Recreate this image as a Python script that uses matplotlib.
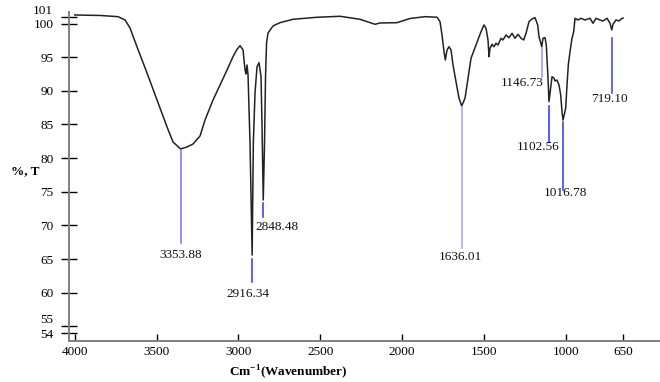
import matplotlib
matplotlib.use("Agg")
import matplotlib.pyplot as plt

plt.rcParams['font.family'] = ['Liberation Serif', 'DejaVu Serif']
plt.rcParams['mathtext.fontset'] = 'custom'
plt.rcParams['mathtext.rm'] = 'Liberation Serif'
plt.rcParams['mathtext.bf'] = 'Liberation Serif:bold'

# FTIR spectrum (wavenumber, %T)
wavenumber = [4000, 3845.8, 3735.8, 3693, 3662.5, 3619.7, 3558.6, 3497.5, 3436.4, 3399.8,
              3353.88, 3314.2, 3277.6, 3234.8, 3204.2, 3155.4, 3112.6, 3069.8, 3033.2, 3008.8,
              2990.4, 2972.1, 2959.8, 2953.7, 2947.6, 2941.5, 2929.3, 2916.34, 2909.1, 2898.8,
              2886.5, 2874.3, 2862.1, 2855.9, 2848.48, 2840.7, 2834.6, 2828.5, 2819.3, 2788.8,
              2746, 2666.6, 2519.9, 2379.4, 2257.2, 2165.6, 2135, 2031.1, 1951.7, 1860,
              1786.8, 1768.4, 1756.2, 1744, 1736, 1725.6, 1713.4, 1701.2, 1689, 1670.6,
              1652.3, 1636.01, 1615.6, 1597.3, 1579, 1548.4, 1517.9, 1499.6, 1487.3, 1475.1,
              1469, 1462.9, 1450.7, 1438.5, 1426.2, 1414, 1395.7, 1383.5, 1365.1, 1346.8,
              1328.5, 1310.1, 1291.8, 1273.5, 1257, 1242.9, 1224.6, 1206.3, 1187.9, 1171.5,
              1163.5, 1146.73, 1139.1, 1126.8, 1118.9, 1108.5, 1102.56, 1090.2, 1084.1, 1071.9,
              1065.8, 1053.5, 1041.3, 1030.9, 1023, 1016.78, 1000.4, 992.4, 984.5, 974.1,
              961.9, 951.5, 943.5, 925.2, 906.9, 882.4, 851.9, 833.6, 815.2, 790.8,
              772.5, 748, 729.7, 719.10, 711.4, 693, 674.7, 656.4, 650]
transmittance = [101.27, 101.2, 101.02, 100.53, 99.34, 96.52, 92.65, 88.64, 84.63, 82.4,
                 81.36, 81.66, 82.1, 83.29, 85.67, 88.64, 90.87, 93.1, 95.08, 96.17,
                 96.71, 96.07, 93.1, 92.5, 93.84, 92.36, 82.25, 65.6, 82.25, 89.68,
                 93.59, 94.18, 92.1, 84.67, 73.78, 82.25, 92.06, 97.11, 98.6, 99.64,
                 100.13, 100.63, 100.93, 101.08, 100.63, 99.89, 100.08, 100.13, 100.75, 101.02,
                 100.94, 100.28, 98.3, 95.82, 94.58, 96.07, 96.56, 96.07, 93.84, 91.36,
                 88.89, 87.75, 88.89, 91.87, 94.84, 96.81, 98.79, 99.79, 99.3, 97.56,
                 95.08, 96.32, 96.92, 96.56, 97.07, 96.81, 97.81, 97.56, 98.3, 97.9,
                 98.55, 97.81, 98.4, 97.81, 97.56, 98.55, 100.28, 100.68, 100.87, 99.79,
                 98.05, 96.56, 97.81, 97.9, 96.81, 91.87, 88.39, 90.87, 92.1, 91.87,
                 91.46, 91.61, 90.87, 89.38, 86.9, 85.67, 87.41, 90.87, 93.84, 95.82,
                 97.81, 98.79, 100.78, 100.53, 100.78, 100.53, 100.78, 100.04, 100.78, 100.53,
                 100.38, 100.78, 100.04, 99.04, 99.89, 100.53, 100.38, 100.78, 100.8]

# peak markers: label, line top/bottom (%T), label anchor (wavenumber, %T)
peaks = [3353.88, 2916.34, 2848.48, 1636.01, 1146.73, 1102.56, 1016.78, 719.10]
line_top = [81.2, 65.0, 73.4, 87.6, 96.4, 87.75, 85.4, 97.9]
line_bottom = [67.4, 61.6, 71.2, 66.7, 92.0, 82.4, 75.3, 89.7]
label_x = [3353.88, 2939.6, 2894.5, 1646, 1264.3, 1169.6, 1001.6, 732.7]
label_y = [65.6, 59.8, 69.8, 65.3, 91.2, 81.7, 74.8, 88.75]
label_ha = ['center', 'center', 'left', 'center', 'center', 'center', 'center', 'center']
line_colors = ['#7070ff', '#3030ff', '#3030ff', '#a0a0ff', '#9595ff', '#2a2aff', '#3535e0', '#3a3aff']

yticks = [101, 100, 95, 90, 85, 80, 75, 70, 65, 60, 55, 54]
xticks = [4000, 3500, 3000, 2500, 2000, 1500, 1000, 650]

fig = plt.figure(figsize=(6.6, 3.82), dpi=100)
ax = fig.add_axes([0.105, 0.1073, 0.895, 0.8621])

ax.plot(wavenumber, transmittance, color='#222222', lw=1.1)

for wn, t0, t1, lx, ly, ha, c in zip(peaks, line_top, line_bottom, label_x, label_y, label_ha, line_colors):
    ax.plot([wn, wn], [t0, t1], color=c, lw=1.1)
    ax.text(lx, ly, f"{wn:.2f}", ha=ha, va='center', fontsize=9.5, color='#111111')

ax.set_xlim(4033.6, 424.2)
ax.set_ylim(52.83, 101.76)

ax.set_xticks(xticks)
ax.set_xticklabels([str(v) for v in xticks])
ax.set_yticks(yticks)
ax.set_yticklabels([str(v) for v in yticks])

for side in ['top', 'right']:
    ax.spines[side].set_visible(False)
for side in ['left', 'bottom']:
    ax.spines[side].set_color('#808080')
    ax.spines[side].set_linewidth(1.4)

ax.tick_params(axis='x', direction='in', length=5, width=1, color='black', pad=3.5, labelsize=9.5)
ax.tick_params(axis='y', direction='inout', length=11, width=1, color='black', pad=6, labelsize=9.5)
for lab in ax.get_yticklabels():
    if lab.get_text() in ('101', '55'):
        lab.set_va('bottom')

ax.set_xlabel(r'Cm$^{\mathbf{-1}}$(Wavenumber)', fontsize=9.5, fontweight='bold', va='center')
ax.xaxis.set_label_coords(0.37, -0.094)
ax.set_ylabel('%, T', fontsize=9.5, fontweight='bold', rotation=0, va='center', ha='center')
ax.yaxis.set_label_coords(-0.075, 0.516)

fig.savefig('out.png', dpi=100)
